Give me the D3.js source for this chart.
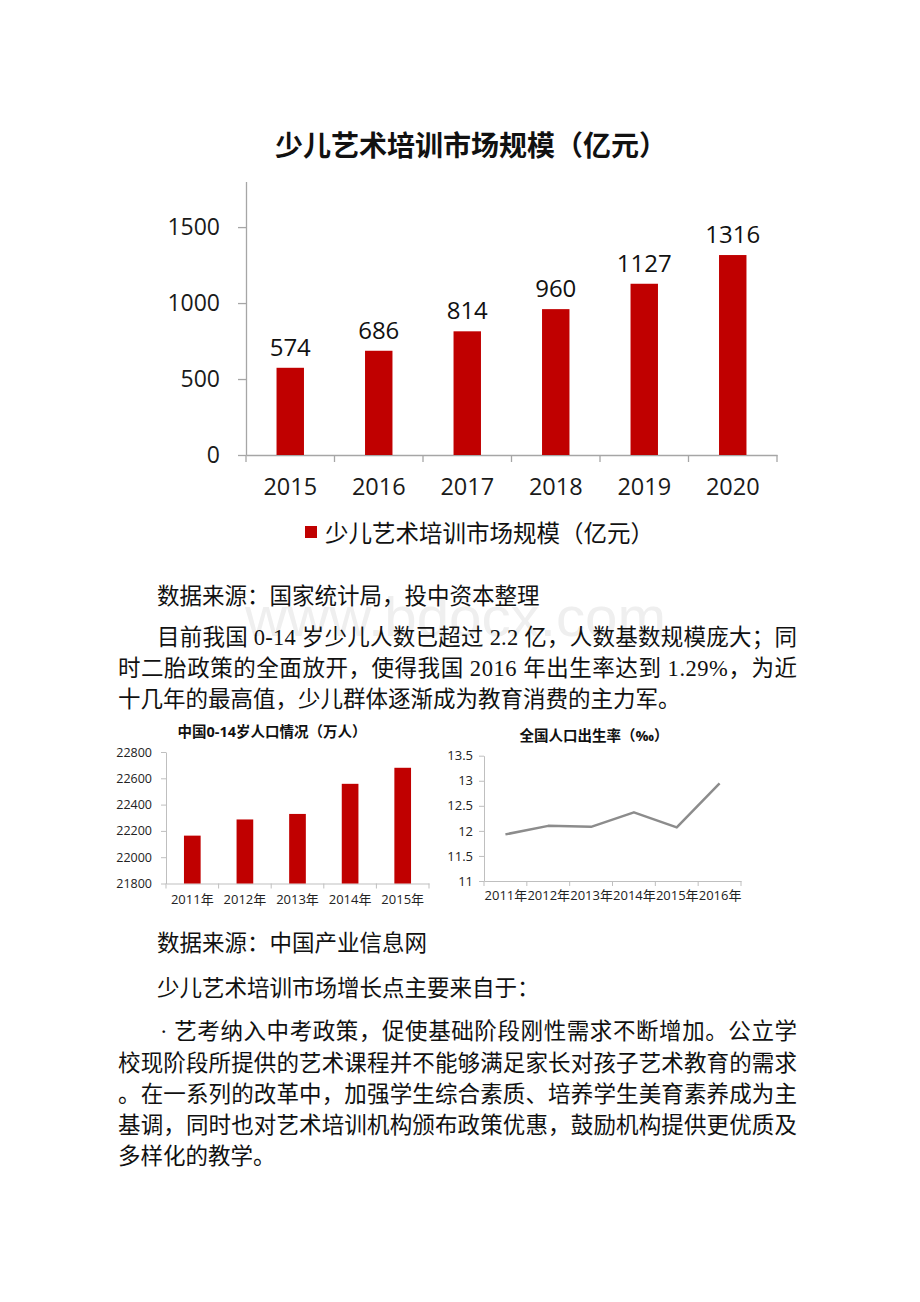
<!DOCTYPE html>
<html><head><meta charset="utf-8">
<script src="https://cdn.jsdelivr.net/npm/d3@7"></script>
<style>
html,body{margin:0;padding:0;background:#fff;}
svg{display:block;}
</style></head>
<body>
<svg id="page" width="920" height="1302"></svg>
<script>
// ---------- data ----------
const marketYears = ["2015","2016","2017","2018","2019","2020"];
const marketSize = [574, 686, 814, 960, 1127, 1316];
const marketTicks = [0, 500, 1000, 1500];
const marketTitle = "少儿艺术培训市场规模（亿元）";

const popYears = ["2011年","2012年","2013年","2014年","2015年"];
const popValues = [22164, 22287, 22329, 22558, 22680];
const popTicks = [21800, 22000, 22200, 22400, 22600, 22800];
const popTitle = "中国0-14岁人口情况（万人）";

const birthYears = ["2011年","2012年","2013年","2014年","2015年","2016年"];
const birthRates = [11.93, 12.10, 12.08, 12.37, 12.07, 12.95];
const birthTicks = [11, 11.5, 12, 12.5, 13, 13.5];
const birthTitle = "全国人口出生率（‰）";

const source1 = "数据来源：国家统计局，投中资本整理";
const para1 = [
  "目前我国 0-14 岁少儿人数已超过 2.2 亿，人数基数规模庞大；同",
  "时二胎政策的全面放开，使得我国 2016 年出生率达到 1.29%，为近",
  "十几年的最高值，少儿群体逐渐成为教育消费的主力军。"
];
const source2 = "数据来源：中国产业信息网";
const lead2 = "少儿艺术培训市场增长点主要来自于：";
const para2 = [
  "· 艺考纳入中考政策，促使基础阶段刚性需求不断增加。公立学",
  "校现阶段所提供的艺术课程并不能够满足家长对孩子艺术教育的需求",
  "。在一系列的改革中，加强学生综合素质、培养学生美育素养成为主",
  "基调，同时也对艺术培训机构颁布政策优惠，鼓励机构提供更优质及",
  "多样化的教学。"
];

// ---------- setup ----------
const svg = d3.select("#page");
svg.append("rect").attr("width",920).attr("height",1302).attr("fill","#fff");
const CF = "'Open Sans','Noto Sans CJK SC',sans-serif";
const BF = "'Liberation Serif','Noto Sans CJK SC',serif";
const RED = "#c00000";

// watermark (faint, behind the text)
svg.append("text").attr("x",245).attr("y",636).attr("textLength",421).attr("lengthAdjust","spacingAndGlyphs")
  .attr("font-family","'Liberation Sans',Arial,sans-serif").attr("font-size",56).attr("fill","#efefef")
  .text("www.bdocx.com");

// ---------- main chart ----------
{
  const g = svg.append("g");
  const x = d3.scaleBand().domain(marketYears).range([246,777]).paddingInner(0.69).paddingOuter(0.345);
  const y = d3.scaleLinear().domain([0,1800]).range([455,181.5]);
  g.append("text").attr("x",471).attr("y",145).attr("text-anchor","middle").attr("dominant-baseline","central")
    .attr("font-family",CF).attr("font-weight","bold").attr("font-size",28).attr("fill","#111").text(marketTitle);

  const ya = g.append("g").attr("transform","translate(246,0)")
    .call(d3.axisLeft(y).tickValues(marketTicks).tickFormat(d3.format("d")).tickSize(8).tickSizeOuter(0).tickPadding(18));
  ya.select(".domain").attr("stroke","#a6a6a6").attr("stroke-width",1.3);
  ya.selectAll(".tick line").attr("stroke","#a6a6a6").attr("stroke-width",1.3);
  ya.selectAll(".tick text").attr("font-family",CF).attr("font-size",23).attr("fill","#1a1a1a");

  const xa = g.append("g").attr("transform","translate(0,455)")
    .call(d3.axisBottom(x).tickSize(0).tickSizeOuter(0).tickPadding(23));
  xa.select(".domain").attr("stroke","#a6a6a6").attr("stroke-width",1.3);
  xa.selectAll(".tick text").attr("font-family",CF).attr("font-size",23.5).attr("fill","#1a1a1a");
  g.selectAll(".xb").data(d3.range(marketYears.length+1)).join("line")
    .attr("x1",i=>x.range()[0]+i*x.step()).attr("x2",i=>x.range()[0]+i*x.step())
    .attr("y1",455).attr("y2",462).attr("stroke","#a6a6a6").attr("stroke-width",1.3);

  g.selectAll(".bar").data(marketSize).join("rect")
    .attr("x",(d,i)=>x(marketYears[i])).attr("width",x.bandwidth())
    .attr("y",d=>y(d)).attr("height",d=>y(0)-y(d)).attr("fill",RED);
  g.selectAll(".lbl").data(marketSize).join("text")
    .attr("x",(d,i)=>x(marketYears[i])+x.bandwidth()/2).attr("y",d=>y(d)-12)
    .attr("text-anchor","middle").attr("font-family",CF).attr("font-size",24).attr("fill","#111").text(d=>d);

  g.append("rect").attr("x",305).attr("y",526).attr("width",12).attr("height",12).attr("fill",RED);
  g.append("text").attr("x",325).attr("y",533).attr("dominant-baseline","central")
    .attr("font-family",CF).attr("font-size",23.5).attr("fill","#111").text(marketTitle);
}

// ---------- population bar chart ----------
{
  const g = svg.append("g");
  const x = d3.scaleBand().domain(popYears).range([166,429]).paddingInner(0.683).paddingOuter(0.3415);
  const y = d3.scaleLinear().domain([21800,22800]).range([883.5,752]);
  g.append("text").attr("x",272).attr("y",731).attr("text-anchor","middle").attr("dominant-baseline","central")
    .attr("font-family",CF).attr("font-weight","bold").attr("font-size",14.5).attr("fill","#111").text(popTitle);
  const ya = g.append("g").attr("transform","translate(166,0)")
    .call(d3.axisLeft(y).tickValues(popTicks).tickFormat(d3.format("d")).tickSize(5).tickSizeOuter(0).tickPadding(9));
  ya.select(".domain").attr("stroke","#bfbfbf");
  ya.selectAll(".tick line").attr("stroke","#bfbfbf");
  ya.selectAll(".tick text").attr("font-family",CF).attr("font-size",12.5).attr("fill","#222");
  const xa = g.append("g").attr("transform","translate(0,883.5)")
    .call(d3.axisBottom(x).tickSize(0).tickSizeOuter(0).tickPadding(11));
  xa.select(".domain").attr("stroke","#bfbfbf");
  xa.selectAll(".tick text").attr("font-family",CF).attr("font-size",13).attr("fill","#222");
  g.selectAll(".xb").data(d3.range(popYears.length+1)).join("line")
    .attr("x1",i=>x.range()[0]+i*x.step()).attr("x2",i=>x.range()[0]+i*x.step())
    .attr("y1",883.5).attr("y2",888.5).attr("stroke","#bfbfbf");
  g.selectAll(".bar").data(popValues).join("rect")
    .attr("x",(d,i)=>x(popYears[i])).attr("width",x.bandwidth())
    .attr("y",d=>y(d)).attr("height",d=>y(21800)-y(d)).attr("fill",RED);
}

// ---------- birth rate line chart ----------
{
  const g = svg.append("g");
  const x = d3.scalePoint().domain(birthYears).range([484,741]).padding(0.5);
  const y = d3.scaleLinear().domain([11,13.5]).range([881,755.7]);
  g.append("text").attr("x",594).attr("y",735).attr("text-anchor","middle").attr("dominant-baseline","central")
    .attr("font-family",CF).attr("font-weight","bold").attr("font-size",14.5).attr("fill","#111").text(birthTitle);
  const ya = g.append("g").attr("transform","translate(484,0)")
    .call(d3.axisLeft(y).tickValues(birthTicks).tickFormat(d3.format("~g")).tickSize(5).tickSizeOuter(0).tickPadding(6));
  ya.select(".domain").attr("stroke","#bfbfbf");
  ya.selectAll(".tick line").attr("stroke","#bfbfbf");
  ya.selectAll(".tick text").attr("font-family",CF).attr("font-size",13).attr("fill","#222");
  const xa = g.append("g").attr("transform","translate(0,881)")
    .call(d3.axisBottom(x).tickSize(0).tickSizeOuter(0).tickPadding(10));
  xa.select(".domain").attr("stroke","#bfbfbf");
  xa.selectAll(".tick text").attr("font-family",CF).attr("font-size",13).attr("fill","#222");
  g.selectAll(".xb").data(d3.range(birthYears.length+1)).join("line")
    .attr("x1",i=>x.range()[0]+i*x.step()).attr("x2",i=>x.range()[0]+i*x.step())
    .attr("y1",881).attr("y2",886).attr("stroke","#bfbfbf");
  g.append("path").datum(birthRates)
    .attr("d", d3.line().x((d,i)=>x(birthYears[i])).y(d=>y(d)))
    .attr("fill","none").attr("stroke","#8c8c8c").attr("stroke-width",2.5).attr("stroke-linejoin","round");
}

// ---------- body text ----------
function bodyLine(txt, x, y, endX){
  const t = svg.append("text").attr("x",x).attr("y",y).attr("dominant-baseline","central")
    .attr("font-family",BF).attr("font-size",22.5).attr("fill","#111").text(txt);
  if(endX){ t.attr("textLength",endX-x).attr("lengthAdjust","spacing"); }
  return t;
}
bodyLine(source1,157,596);
bodyLine(para1[0],157,637,797);
bodyLine(para1[1],118,668,797);
bodyLine(para1[2],118,699);
bodyLine(source2,157,943);
bodyLine(lead2,157,988);
bodyLine(para2[0],160,1031,797);
bodyLine(para2[1],118,1063,797);
bodyLine(para2[2],118,1094,797);
bodyLine(para2[3],118,1125,797);
bodyLine(para2[4],118,1156);
</script>
</body></html>
